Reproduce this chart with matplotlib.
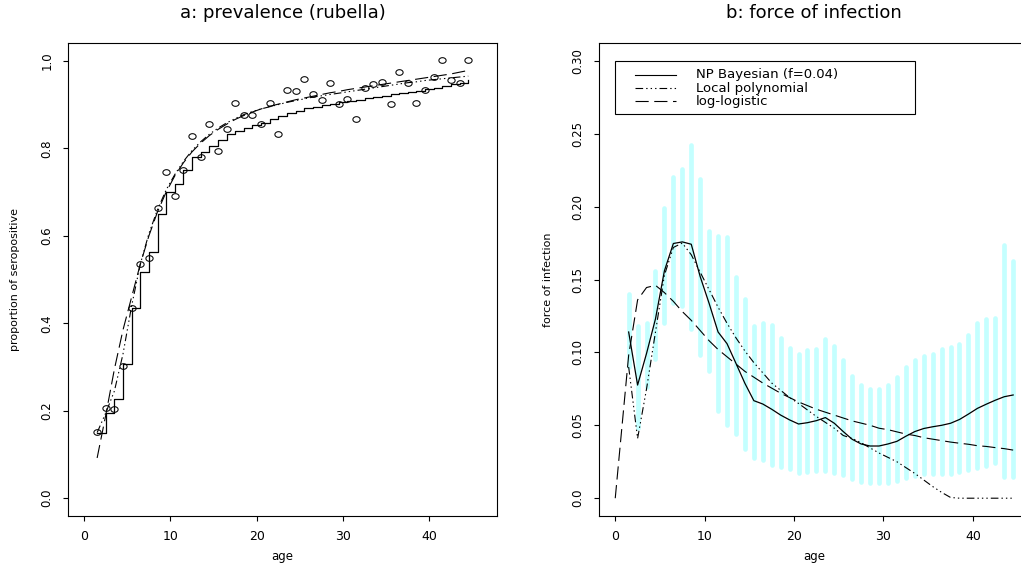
import numpy as np
import matplotlib
matplotlib.use("Agg")
import matplotlib.pyplot as plt
from matplotlib.path import Path
from matplotlib.lines import Line2D
from matplotlib.patches import Rectangle

plt.rcParams['font.family'] = ['DejaVu Sans']
plt.rcParams['lines.scale_dashes'] = False

# ---------------- data ----------------
ages = [1.5, 2.5, 3.5, 4.5, 5.5, 6.5, 7.5, 8.5, 9.5, 10.5, 11.5, 12.5, 13.5, 14.5,
        15.5, 16.5, 17.5, 18.5, 19.5, 20.5, 21.5, 22.5, 23.5, 24.5, 25.5, 26.5,
        27.5, 28.5, 29.5, 30.5, 31.5, 32.5, 33.5, 34.5, 35.5, 36.5, 37.5, 38.5,
        39.5, 40.5, 41.5, 42.5, 43.5, 44.5]

# panel a: observed proportion seropositive
obs_prop = [0.152, 0.206, 0.203, 0.303, 0.434, 0.535, 0.550, 0.663, 0.745, 0.690,
            0.750, 0.827, 0.781, 0.856, 0.793, 0.845, 0.903, 0.875, 0.875, 0.856,
            0.904, 0.833, 0.933, 0.930, 0.958, 0.924, 0.911, 0.949, 0.901, 0.912,
            0.867, 0.938, 0.947, 0.952, 0.902, 0.974, 0.949, 0.904, 0.934, 0.964,
            1.001, 0.956, 0.949, 1.001]

# NP Bayesian (monotone step) prevalence
np_prev = [0.149, 0.194, 0.226, 0.306, 0.434, 0.517, 0.564, 0.649, 0.699, 0.718,
           0.750, 0.779, 0.792, 0.806, 0.820, 0.832, 0.840, 0.847, 0.853, 0.858,
           0.866, 0.873, 0.880, 0.886, 0.891, 0.895, 0.899, 0.902, 0.905, 0.908,
           0.911, 0.914, 0.917, 0.920, 0.923, 0.926, 0.929, 0.932, 0.935, 0.938,
           0.942, 0.946, 0.950, 0.955]

# log-logistic prevalence
ll_prev = [0.092, 0.190, 0.295, 0.385, 0.460, 0.535, 0.600, 0.655, 0.700, 0.737,
           0.767, 0.792, 0.812, 0.829, 0.843, 0.855, 0.866, 0.875, 0.883, 0.890,
           0.896, 0.901, 0.906, 0.911, 0.915, 0.919, 0.923, 0.927, 0.930, 0.934,
           0.937, 0.940, 0.943, 0.946, 0.949, 0.952, 0.955, 0.958, 0.961, 0.964,
           0.967, 0.970, 0.974, 0.978]

# local polynomial prevalence
lp_prev = [0.150, 0.195, 0.245, 0.330, 0.440, 0.535, 0.605, 0.660, 0.705, 0.740,
           0.770, 0.795, 0.815, 0.832, 0.846, 0.858, 0.868, 0.877, 0.884, 0.890,
           0.895, 0.900, 0.905, 0.909, 0.913, 0.917, 0.920, 0.923, 0.926, 0.929,
           0.932, 0.935, 0.938, 0.941, 0.944, 0.947, 0.950, 0.952, 0.955, 0.957,
           0.959, 0.961, 0.963, 0.965]

# panel b: force of infection
ci_upper = [0.140, 0.118, 0.120, 0.156, 0.199, 0.2205, 0.2258, 0.2425, 0.2187, 0.1833,
            0.1801, 0.179, 0.1516, 0.1363, 0.118, 0.120, 0.119, 0.1096, 0.1027, 0.0989,
            0.1016, 0.1025, 0.1094, 0.1043, 0.0947, 0.0838, 0.0776, 0.0747, 0.0747, 0.0776,
            0.0833, 0.090, 0.095, 0.0975, 0.0986, 0.102, 0.1034, 0.1055, 0.1119, 0.1203,
            0.1226, 0.1233, 0.1735, 0.1625]
ci_lower = [0.090, 0.048, 0.0765, 0.0957, 0.120, 0.1336, 0.132, 0.116, 0.098, 0.087,
            0.060, 0.050, 0.044, 0.0336, 0.0274, 0.0263, 0.0228, 0.0212, 0.0199, 0.0176,
            0.0178, 0.0187, 0.0187, 0.0176, 0.016, 0.0132, 0.011, 0.0105, 0.0105, 0.0107,
            0.012, 0.0137, 0.0155, 0.0164, 0.0167, 0.0167, 0.0167, 0.0178, 0.0194, 0.0205,
            0.0221, 0.0244, 0.0148, 0.0148]

np_foi = [0.114, 0.0776, 0.0993, 0.123, 0.156, 0.1747, 0.1758, 0.1742, 0.152, 0.1336,
          0.114, 0.106, 0.0925, 0.0788, 0.0669, 0.0646, 0.061, 0.057, 0.0537, 0.0509,
          0.0518, 0.0532, 0.0553, 0.0514, 0.0457, 0.0404, 0.0372, 0.0358, 0.0358, 0.0372,
          0.039, 0.0425, 0.0457, 0.0478, 0.049, 0.050, 0.0514, 0.054, 0.0577, 0.0616,
          0.0645, 0.0672, 0.0696, 0.0708]

lp_foi = [0.090, 0.041, 0.075, 0.114, 0.153, 0.172, 0.175, 0.167, 0.155, 0.143,
          0.131, 0.120, 0.110, 0.101, 0.093, 0.086, 0.079, 0.074, 0.069, 0.065,
          0.0605, 0.056, 0.052, 0.048, 0.043, 0.041, 0.038, 0.0345, 0.031, 0.028,
          0.025, 0.021, 0.017, 0.0125, 0.008, 0.004, 0.0005, 0.0, 0.0, 0.0,
          0.0, 0.0, 0.0, 0.0]

ll_age = [0.0] + ages
ll_foi = [0.0, 0.098, 0.136, 0.1445, 0.146, 0.141, 0.135, 0.128, 0.122, 0.115, 0.108,
          0.102, 0.097, 0.092, 0.087, 0.083, 0.079, 0.0755, 0.072, 0.069, 0.066,
          0.0635, 0.061, 0.059, 0.057, 0.055, 0.053, 0.0515, 0.050, 0.048, 0.047,
          0.0455, 0.044, 0.043, 0.0415, 0.0405, 0.0395, 0.0385, 0.0377, 0.037, 0.036,
          0.0355, 0.0347, 0.034, 0.033]

legend_labels = ["NP Bayesian (f=0.04)", "Local polynomial", "log-logistic"]

# ---------------- styles ----------------
LL_DASH = (0, (9.5, 4.0))
LP_DASH = (0, (5.5, 2.2, 1.0, 2.2, 1.0, 2.2, 1.0, 2.2))
LW = 0.9
BAR_COLOR = '#C4FFFF'

t = np.linspace(0, 2 * np.pi, 60)
ellipse = Path(np.column_stack([1.28 * np.cos(t), np.sin(t)]), closed=True)

fig = plt.figure(figsize=(10.21, 5.73), dpi=100)
axL = fig.add_axes([0.0669, 0.1000, 0.4196, 0.8244])
axR = fig.add_axes([0.5870, 0.1000, 0.4209, 0.8244])

# ---------- panel a ----------
axL.step(ages, np_prev, where='post', color='black', lw=LW)
axL.plot(ages, ll_prev, color='black', lw=0.8, linestyle=LL_DASH)
axL.plot(ages, lp_prev, color='black', lw=0.8, linestyle=LP_DASH)
axL.plot(ages, obs_prop, linestyle='none', marker=ellipse, markersize=5.2,
         markerfacecolor='none', markeredgecolor='black', markeredgewidth=0.75)
axL.set_xlim(-1.84, 47.8)
axL.set_ylim(-0.04, 1.04)
axL.set_xticks([0, 10, 20, 30, 40])
axL.set_yticks([0.0, 0.2, 0.4, 0.6, 0.8, 1.0])
axL.set_yticklabels(['0.0', '0.2', '0.4', '0.6', '0.8', '1.0'])
axL.set_title('a: prevalence (rubella)', fontsize=13, pad=18)
axL.set_xlabel('age', fontsize=8.5)
axL.set_ylabel('proportion of seropositive', fontsize=8)
axL.xaxis.set_label_coords(0.5, -0.0874)
axL.xaxis.label.set_verticalalignment('center')
axL.yaxis.set_label_coords(-0.124, 0.5)
axL.yaxis.label.set_verticalalignment('center')

# ---------- panel b ----------
axR.vlines(ages, ci_lower, ci_upper, colors=BAR_COLOR, linewidth=3.4,
           capstyle='round', zorder=1)
axR.plot(ages, np_foi, color='black', lw=LW, zorder=3)
axR.plot(ages, lp_foi, color='black', lw=0.8, linestyle=LP_DASH, zorder=3)
axR.plot(ll_age, ll_foi, color='black', lw=0.8, linestyle=LL_DASH, zorder=3)
axR.set_xlim(-1.78, 46.28)
axR.set_ylim(-0.012, 0.312)
axR.set_xticks([0, 10, 20, 30, 40])
axR.set_yticks([0.0, 0.05, 0.10, 0.15, 0.20, 0.25, 0.30])
axR.set_yticklabels(['0.0', '0.05', '0.10', '0.15', '0.20', '0.25', '0.30'])
axR.set_title('b: force of infection', fontsize=13, pad=18)
axR.set_xlabel('age', fontsize=8.5)
axR.set_ylabel('force of infection', fontsize=8)
axR.xaxis.set_label_coords(0.5, -0.0874)
axR.xaxis.label.set_verticalalignment('center')
axR.yaxis.set_label_coords(-0.1194, 0.5)
axR.yaxis.label.set_verticalalignment('center')

# legend box (drawn manually to match the reference layout)
axR.add_patch(Rectangle((0.0, 0.2637), 33.5, 0.0363, facecolor='white',
                        edgecolor='black', lw=0.8, zorder=5))
leg_rows = [0.2905, 0.2813, 0.2723]
leg_styles = ['solid', LP_DASH, LL_DASH]
for lab, yy, ls in zip(legend_labels, leg_rows, leg_styles):
    axR.add_line(Line2D([2.16, 6.83], [yy, yy], color='black', lw=0.8,
                        linestyle=ls, zorder=6))
    axR.text(9.0, yy, lab, fontsize=9.5, va='center', ha='left', zorder=6)

for ax in (axL, axR):
    for sp in ax.spines.values():
        sp.set_linewidth(0.8)
        sp.set_color('black')
    ax.tick_params(direction='out', length=3.6, width=0.8, color='black')
    ax.tick_params(axis='x', labelsize=9, pad=7)
    ax.tick_params(axis='y', labelsize=8.5, pad=7, labelrotation=90)
    for lbl in ax.get_yticklabels():
        lbl.set_verticalalignment('center')

fig.savefig('out.png', dpi=100)
